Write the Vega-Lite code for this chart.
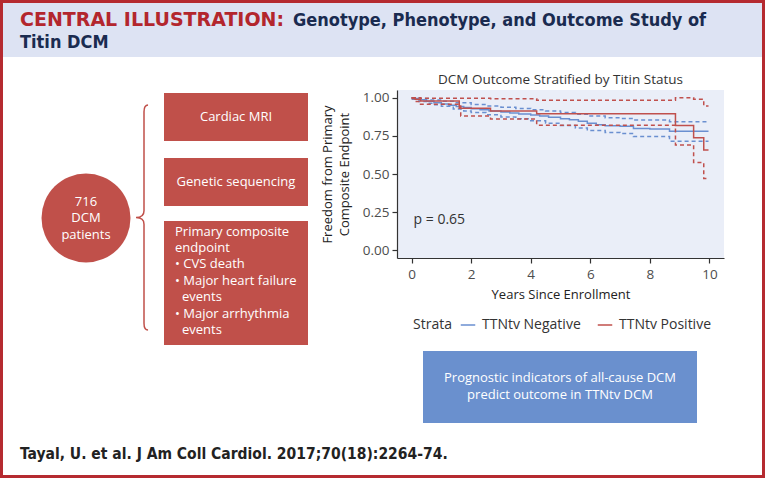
{
  "$schema": "https://vega.github.io/schema/vega-lite/v6.json",
  "width": 327,
  "height": 168,
  "autosize": {"type": "none"},
  "padding": {"left": 397, "top": 90, "right": 41, "bottom": 220},
  "background": "white",
  "config": {
    "view": {"fill": "#eaeef8", "stroke": null},
    "font": "Open Sans",
    "axis": {
      "grid": false,
      "domainColor": "#333333",
      "domainWidth": 1.2,
      "tickColor": "#333333",
      "tickSize": 5,
      "tickWidth": 1.2,
      "labelColor": "#4d4d4d",
      "labelFont": "Open Sans",
      "labelFontSize": 13.5,
      "labelPadding": 3,
      "titleFont": "Open Sans",
      "titleFontSize": 13,
      "titleFontWeight": "normal",
      "titleColor": "#222222"
    },
    "legend": {
      "labelFont": "Open Sans",
      "labelFontSize": 14,
      "labelColor": "#333333",
      "titleFont": "Open Sans",
      "titleFontSize": 14,
      "titleFontWeight": "normal",
      "titleColor": "#333333",
      "padding": 0
    }
  },
  "data": {
    "values": [
      {"t": 0, "s": 1.0, "strata": "TTNtv Negative", "band": "est"},
      {"t": 0.1, "s": 0.995, "strata": "TTNtv Negative", "band": "est"},
      {"t": 0.25, "s": 0.986, "strata": "TTNtv Negative", "band": "est"},
      {"t": 0.5, "s": 0.976, "strata": "TTNtv Negative", "band": "est"},
      {"t": 0.75, "s": 0.966, "strata": "TTNtv Negative", "band": "est"},
      {"t": 1.0, "s": 0.958, "strata": "TTNtv Negative", "band": "est"},
      {"t": 1.25, "s": 0.95, "strata": "TTNtv Negative", "band": "est"},
      {"t": 1.5, "s": 0.942, "strata": "TTNtv Negative", "band": "est"},
      {"t": 1.75, "s": 0.935, "strata": "TTNtv Negative", "band": "est"},
      {"t": 2.0, "s": 0.928, "strata": "TTNtv Negative", "band": "est"},
      {"t": 2.3, "s": 0.92, "strata": "TTNtv Negative", "band": "est"},
      {"t": 2.6, "s": 0.913, "strata": "TTNtv Negative", "band": "est"},
      {"t": 3.0, "s": 0.906, "strata": "TTNtv Negative", "band": "est"},
      {"t": 3.3, "s": 0.9, "strata": "TTNtv Negative", "band": "est"},
      {"t": 3.6, "s": 0.893, "strata": "TTNtv Negative", "band": "est"},
      {"t": 4.0, "s": 0.886, "strata": "TTNtv Negative", "band": "est"},
      {"t": 4.3, "s": 0.879, "strata": "TTNtv Negative", "band": "est"},
      {"t": 4.6, "s": 0.871, "strata": "TTNtv Negative", "band": "est"},
      {"t": 5.0, "s": 0.862, "strata": "TTNtv Negative", "band": "est"},
      {"t": 5.3, "s": 0.855, "strata": "TTNtv Negative", "band": "est"},
      {"t": 5.6, "s": 0.845, "strata": "TTNtv Negative", "band": "est"},
      {"t": 5.9, "s": 0.832, "strata": "TTNtv Negative", "band": "est"},
      {"t": 6.2, "s": 0.823, "strata": "TTNtv Negative", "band": "est"},
      {"t": 6.5, "s": 0.816, "strata": "TTNtv Negative", "band": "est"},
      {"t": 7.0, "s": 0.812, "strata": "TTNtv Negative", "band": "est"},
      {"t": 7.45, "s": 0.798, "strata": "TTNtv Negative", "band": "est"},
      {"t": 8.0, "s": 0.794, "strata": "TTNtv Negative", "band": "est"},
      {"t": 8.66, "s": 0.78, "strata": "TTNtv Negative", "band": "est"},
      {"t": 9.97, "s": 0.78, "strata": "TTNtv Negative", "band": "est"},

      {"t": 0, "s": 1.0, "strata": "TTNtv Negative", "band": "upper"},
      {"t": 0.3, "s": 0.995, "strata": "TTNtv Negative", "band": "upper"},
      {"t": 0.6, "s": 0.985, "strata": "TTNtv Negative", "band": "upper"},
      {"t": 1.0, "s": 0.976, "strata": "TTNtv Negative", "band": "upper"},
      {"t": 1.5, "s": 0.966, "strata": "TTNtv Negative", "band": "upper"},
      {"t": 2.0, "s": 0.955, "strata": "TTNtv Negative", "band": "upper"},
      {"t": 2.5, "s": 0.946, "strata": "TTNtv Negative", "band": "upper"},
      {"t": 3.0, "s": 0.937, "strata": "TTNtv Negative", "band": "upper"},
      {"t": 3.5, "s": 0.929, "strata": "TTNtv Negative", "band": "upper"},
      {"t": 4.0, "s": 0.921, "strata": "TTNtv Negative", "band": "upper"},
      {"t": 4.5, "s": 0.913, "strata": "TTNtv Negative", "band": "upper"},
      {"t": 5.0, "s": 0.902, "strata": "TTNtv Negative", "band": "upper"},
      {"t": 5.5, "s": 0.892, "strata": "TTNtv Negative", "band": "upper"},
      {"t": 5.9, "s": 0.88, "strata": "TTNtv Negative", "band": "upper"},
      {"t": 6.5, "s": 0.869, "strata": "TTNtv Negative", "band": "upper"},
      {"t": 7.0, "s": 0.864, "strata": "TTNtv Negative", "band": "upper"},
      {"t": 7.45, "s": 0.853, "strata": "TTNtv Negative", "band": "upper"},
      {"t": 8.66, "s": 0.842, "strata": "TTNtv Negative", "band": "upper"},
      {"t": 9.97, "s": 0.842, "strata": "TTNtv Negative", "band": "upper"},

      {"t": 0, "s": 0.99, "strata": "TTNtv Negative", "band": "lower"},
      {"t": 0.25, "s": 0.975, "strata": "TTNtv Negative", "band": "lower"},
      {"t": 0.5, "s": 0.963, "strata": "TTNtv Negative", "band": "lower"},
      {"t": 0.75, "s": 0.953, "strata": "TTNtv Negative", "band": "lower"},
      {"t": 1.0, "s": 0.943, "strata": "TTNtv Negative", "band": "lower"},
      {"t": 1.4, "s": 0.926, "strata": "TTNtv Negative", "band": "lower"},
      {"t": 1.75, "s": 0.913, "strata": "TTNtv Negative", "band": "lower"},
      {"t": 2.0, "s": 0.902, "strata": "TTNtv Negative", "band": "lower"},
      {"t": 2.5, "s": 0.888, "strata": "TTNtv Negative", "band": "lower"},
      {"t": 3.0, "s": 0.873, "strata": "TTNtv Negative", "band": "lower"},
      {"t": 3.5, "s": 0.861, "strata": "TTNtv Negative", "band": "lower"},
      {"t": 4.0, "s": 0.849, "strata": "TTNtv Negative", "band": "lower"},
      {"t": 4.5, "s": 0.833, "strata": "TTNtv Negative", "band": "lower"},
      {"t": 5.0, "s": 0.817, "strata": "TTNtv Negative", "band": "lower"},
      {"t": 5.5, "s": 0.801, "strata": "TTNtv Negative", "band": "lower"},
      {"t": 5.9, "s": 0.785, "strata": "TTNtv Negative", "band": "lower"},
      {"t": 6.5, "s": 0.772, "strata": "TTNtv Negative", "band": "lower"},
      {"t": 7.0, "s": 0.765, "strata": "TTNtv Negative", "band": "lower"},
      {"t": 7.45, "s": 0.745, "strata": "TTNtv Negative", "band": "lower"},
      {"t": 8.66, "s": 0.715, "strata": "TTNtv Negative", "band": "lower"},
      {"t": 9.97, "s": 0.715, "strata": "TTNtv Negative", "band": "lower"},

      {"t": 0, "s": 1.0, "strata": "TTNtv Positive", "band": "est"},
      {"t": 0.12, "s": 0.99, "strata": "TTNtv Positive", "band": "est"},
      {"t": 0.3, "s": 0.978, "strata": "TTNtv Positive", "band": "est"},
      {"t": 1.6, "s": 0.93, "strata": "TTNtv Positive", "band": "est"},
      {"t": 2.65, "s": 0.912, "strata": "TTNtv Positive", "band": "est"},
      {"t": 4.2, "s": 0.895, "strata": "TTNtv Positive", "band": "est"},
      {"t": 8.86, "s": 0.818, "strata": "TTNtv Positive", "band": "est"},
      {"t": 9.47, "s": 0.738, "strata": "TTNtv Positive", "band": "est"},
      {"t": 9.81, "s": 0.657, "strata": "TTNtv Positive", "band": "est"},
      {"t": 9.97, "s": 0.657, "strata": "TTNtv Positive", "band": "est"},

      {"t": 0, "s": 1.0, "strata": "TTNtv Positive", "band": "upper"},
      {"t": 0.3, "s": 0.996, "strata": "TTNtv Positive", "band": "upper"},
      {"t": 2.65, "s": 0.993, "strata": "TTNtv Positive", "band": "upper"},
      {"t": 4.2, "s": 0.983, "strata": "TTNtv Positive", "band": "upper"},
      {"t": 8.86, "s": 1.0, "strata": "TTNtv Positive", "band": "upper"},
      {"t": 9.47, "s": 0.99, "strata": "TTNtv Positive", "band": "upper"},
      {"t": 9.81, "s": 0.945, "strata": "TTNtv Positive", "band": "upper"},
      {"t": 9.97, "s": 0.945, "strata": "TTNtv Positive", "band": "upper"},

      {"t": 0, "s": 0.995, "strata": "TTNtv Positive", "band": "lower"},
      {"t": 0.12, "s": 0.975, "strata": "TTNtv Positive", "band": "lower"},
      {"t": 0.3, "s": 0.957, "strata": "TTNtv Positive", "band": "lower"},
      {"t": 1.65, "s": 0.88, "strata": "TTNtv Positive", "band": "lower"},
      {"t": 2.65, "s": 0.86, "strata": "TTNtv Positive", "band": "lower"},
      {"t": 4.2, "s": 0.82, "strata": "TTNtv Positive", "band": "lower"},
      {"t": 8.86, "s": 0.69, "strata": "TTNtv Positive", "band": "lower"},
      {"t": 9.47, "s": 0.575, "strata": "TTNtv Positive", "band": "lower"},
      {"t": 9.81, "s": 0.47, "strata": "TTNtv Positive", "band": "lower"},
      {"t": 9.97, "s": 0.47, "strata": "TTNtv Positive", "band": "lower"}
    ]
  },
  "layer": [
    {
      "data": {"values": [{}]},
      "mark": {"type": "rect", "fill": "#dde3f3"},
      "encoding": {"x": {"value": -394}, "x2": {"value": 365}, "y": {"value": -87}, "y2": {"value": -33}}
    },
    {
      "data": {"values": [{}]},
      "mark": {"type": "text", "text": "CENTRAL ILLUSTRATION:", "font": "DejaVu Sans", "fontWeight": "bold", "fontSize": 19, "color": "#b3262d", "align": "left", "baseline": "alphabetic"},
      "encoding": {"x": {"value": -377}, "y": {"value": -64}}
    },
    {
      "data": {"values": [{}]},
      "mark": {"type": "text", "text": "Genotype, Phenotype, and Outcome Study of", "font": "DejaVu Sans Condensed", "fontWeight": "bold", "fontSize": 18, "color": "#1a2b50", "align": "left", "baseline": "alphabetic"},
      "encoding": {"x": {"value": -104}, "y": {"value": -64}}
    },
    {
      "data": {"values": [{}]},
      "mark": {"type": "text", "text": "Titin DCM", "font": "DejaVu Sans Condensed", "fontWeight": "bold", "fontSize": 18, "color": "#1a2b50", "align": "left", "baseline": "alphabetic"},
      "encoding": {"x": {"value": -377}, "y": {"value": -42}}
    },
    {
      "data": {"values": [{}]},
      "mark": {"type": "point", "shape": "circle", "filled": true, "size": 7921, "color": "#c0504a", "opacity": 1},
      "encoding": {"x": {"value": -311}, "y": {"value": 128}}
    },
    {
      "data": {"values": [{}]},
      "mark": {"type": "text", "text": ["716", "DCM", "patients"], "fontSize": 13, "color": "white", "align": "center", "baseline": "middle", "lineHeight": 16.5},
      "encoding": {"x": {"value": -311}, "y": {"value": 111.5}}
    },
    {
      "data": {"values": [{}]},
      "mark": {"type": "point", "shape": "M0.036,-1Q0,-1 0,-0.94L0,-0.06Q0,0 -0.071,0Q0,0 0,0.06L0,0.94Q0,1 0.036,1", "filled": false, "size": 50625, "color": "#c0504a", "strokeWidth": 1.5, "opacity": 1},
      "encoding": {"x": {"value": -253}, "y": {"value": 127.5}}
    },
    {
      "data": {"values": [{}]},
      "mark": {"type": "rect", "fill": "#c0504a"},
      "encoding": {"x": {"value": -233}, "x2": {"value": -89}, "y": {"value": 3}, "y2": {"value": 51}}
    },
    {
      "data": {"values": [{}]},
      "mark": {"type": "rect", "fill": "#c0504a"},
      "encoding": {"x": {"value": -233}, "x2": {"value": -89}, "y": {"value": 68}, "y2": {"value": 116}}
    },
    {
      "data": {"values": [{}]},
      "mark": {"type": "rect", "fill": "#c0504a"},
      "encoding": {"x": {"value": -233}, "x2": {"value": -89}, "y": {"value": 131}, "y2": {"value": 255}}
    },
    {
      "data": {"values": [{}]},
      "mark": {"type": "text", "text": "Cardiac MRI", "fontSize": 13, "color": "white", "align": "center", "baseline": "middle"},
      "encoding": {"x": {"value": -161}, "y": {"value": 27}}
    },
    {
      "data": {"values": [{}]},
      "mark": {"type": "text", "text": "Genetic sequencing", "fontSize": 13, "color": "white", "align": "center", "baseline": "middle"},
      "encoding": {"x": {"value": -161}, "y": {"value": 92}}
    },
    {
      "data": {"values": [{}]},
      "mark": {"type": "text", "text": ["Primary composite", "endpoint", "• CVS death", "• Major heart failure"], "fontSize": 13, "color": "white", "align": "left", "baseline": "middle", "lineHeight": 16.4},
      "encoding": {"x": {"value": -222}, "y": {"value": 141.7}}
    },
    {
      "data": {"values": [{}]},
      "mark": {"type": "text", "text": "events", "fontSize": 13, "color": "white", "align": "left", "baseline": "middle"},
      "encoding": {"x": {"value": -215}, "y": {"value": 207.3}}
    },
    {
      "data": {"values": [{}]},
      "mark": {"type": "text", "text": "• Major arrhythmia", "fontSize": 13, "color": "white", "align": "left", "baseline": "middle"},
      "encoding": {"x": {"value": -222}, "y": {"value": 223.7}}
    },
    {
      "data": {"values": [{}]},
      "mark": {"type": "text", "text": "events", "fontSize": 13, "color": "white", "align": "left", "baseline": "middle"},
      "encoding": {"x": {"value": -215}, "y": {"value": 240.1}}
    },
    {
      "data": {"values": [{}]},
      "mark": {"type": "rect", "fill": "#6a90ce"},
      "encoding": {"x": {"value": 26}, "x2": {"value": 300}, "y": {"value": 261}, "y2": {"value": 333}}
    },
    {
      "data": {"values": [{}]},
      "mark": {"type": "text", "text": ["Prognostic indicators of all-cause DCM", "predict outcome in TTNtv DCM"], "fontSize": 13, "color": "white", "align": "center", "baseline": "middle", "lineHeight": 17},
      "encoding": {"x": {"value": 163}, "y": {"value": 288}}
    },
    {
      "data": {"values": [{}]},
      "mark": {"type": "text", "text": "DCM Outcome Stratified by Titin Status", "fontSize": 13.5, "color": "#333333", "align": "center", "baseline": "middle"},
      "encoding": {"x": {"value": 163.5}, "y": {"value": -10}}
    },
    {
      "mark": {"type": "line", "interpolate": "step-after", "strokeWidth": 1.5},
      "encoding": {
        "x": {"field": "t", "type": "quantitative", "title": "Years Since Enrollment", "scale": {"domain": [-0.49, 10.49], "nice": false, "zero": false}, "axis": {"values": [0, 2, 4, 6, 8, 10], "titlePadding": 8, "labelPadding": 4}},
        "y": {"field": "s", "type": "quantitative", "title": ["Freedom from Primary", "Composite Endpoint"], "scale": {"domain": [-0.05, 1.05], "nice": false, "zero": false}, "axis": {"values": [0, 0.25, 0.5, 0.75, 1], "format": ".2f", "titlePadding": 11, "titleLineHeight": 17}},
        "color": {"field": "strata", "type": "nominal", "scale": {"domain": ["TTNtv Negative", "TTNtv Positive"], "range": ["#6a8fd0", "#c0504d"]},
          "legend": {"title": "Strata", "orient": "none", "legendX": 16, "legendY": 227, "direction": "horizontal", "titleOrient": "left", "symbolType": "stroke", "symbolSize": 210, "symbolStrokeWidth": 1.5, "labelOffset": 6, "columnPadding": 13, "titlePadding": 8}},
        "strokeDash": {"field": "band", "type": "nominal", "scale": {"domain": ["est", "lower", "upper"], "range": [[1, 0], [4, 3], [4, 3]]}, "legend": null},
        "detail": {"field": "band"}
      }
    },
    {
      "data": {"values": [{}]},
      "mark": {"type": "text", "text": "p = 0.65", "fontSize": 14, "color": "#333333", "align": "left", "baseline": "middle", "dx": 2},
      "encoding": {
        "x": {"datum": 0, "type": "quantitative", "title": "Years Since Enrollment"},
        "y": {"datum": 0.2, "type": "quantitative", "title": ["Freedom from Primary", "Composite Endpoint"]}
      }
    },
    {
      "data": {"values": [{}]},
      "mark": {"type": "text", "text": "Tayal, U. et al. J Am Coll Cardiol. 2017;70(18):2264-74.", "font": "DejaVu Sans Condensed", "fontWeight": "bold", "fontSize": 15.5, "color": "#222222", "align": "left", "baseline": "alphabetic"},
      "encoding": {"x": {"value": -377}, "y": {"value": 369}}
    },
    {
      "data": {"values": [{}]},
      "mark": {"type": "rect", "fill": null, "fillOpacity": 0, "stroke": "#b52a30", "strokeWidth": 3},
      "encoding": {"x": {"value": -395.5}, "x2": {"value": 366.5}, "y": {"value": -88.5}, "y2": {"value": 386.5}}
    }
  ]
}
